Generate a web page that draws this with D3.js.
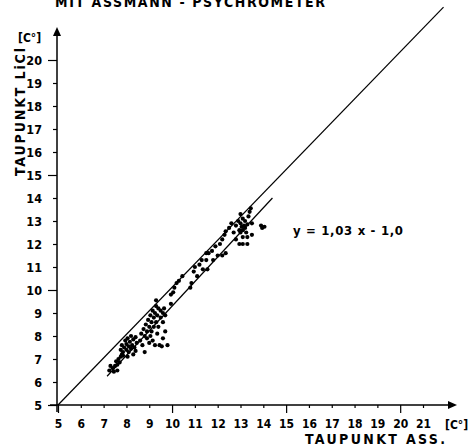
<!DOCTYPE html>
<html>
<head>
<meta charset="utf-8">
<script src="https://cdn.jsdelivr.net/npm/d3@7"></script>
<style>
  body { margin: 0; background: #fff; }
  text { font-family: "DejaVu Sans Condensed", "DejaVu Sans", sans-serif; font-weight: bold; fill: #000; }
</style>
</head>
<body>
<svg id="chart" width="470" height="446"></svg>
<script>
// tick values (deg C) on both axes
const xTicks = d3.range(5, 22);
const yTicks = d3.range(5, 21);
const majorTicks = [5, 10, 15, 20];

// dew point Assmann (x) vs dew point LiCl (y)
const points = [
  [7.25, 6.5], [7.3, 6.7], [7.45, 6.45], [7.5, 6.7], [7.55, 6.9], [7.6, 6.5],
  [7.65, 7.0], [7.7, 6.85], [7.75, 7.1], [7.4, 6.6], [7.8, 7.2], [7.6, 6.75],
  [7.75, 7.4], [7.8, 7.6], [7.85, 7.3], [7.9, 7.5], [7.95, 7.8], [8.0, 7.4],
  [8.0, 7.65], [8.05, 7.9], [8.1, 7.3], [8.1, 7.55], [8.15, 7.75], [8.2, 7.45],
  [8.2, 8.0], [8.25, 7.6], [8.3, 7.85], [8.3, 7.2], [8.35, 7.5], [8.4, 7.95],
  [8.45, 7.7], [7.85, 7.15], [8.05, 7.1], [8.4, 7.35],
  [8.6, 7.8], [8.65, 8.1], [8.7, 7.6], [8.75, 8.3], [8.8, 7.3], [8.8, 8.0],
  [8.85, 8.5], [8.9, 7.9], [8.9, 8.2], [8.95, 8.7], [9.0, 7.7], [9.0, 8.4],
  [9.05, 8.0], [9.05, 8.9], [9.1, 8.6], [9.1, 8.2], [9.15, 9.1], [9.15, 7.8],
  [9.2, 8.4], [9.2, 8.8], [9.25, 9.0], [9.25, 7.6], [9.3, 8.6], [9.3, 9.3],
  [9.35, 8.1], [9.35, 8.9], [9.4, 9.2], [9.4, 8.4], [9.45, 7.6], [9.5, 8.8],
  [9.5, 9.1], [9.55, 7.55], [9.6, 9.0], [9.6, 8.6], [9.7, 8.9], [9.3, 9.55],
  [9.6, 7.9], [9.8, 7.6], [9.7, 8.2], [9.65, 9.2], [9.95, 9.4],
  [9.95, 9.8], [10.05, 9.9], [10.1, 10.1], [10.2, 10.3], [10.3, 10.4],
  [10.45, 10.6], [10.8, 10.1], [10.85, 10.3], [10.95, 10.8], [11.0, 11.0],
  [11.1, 10.6], [11.2, 11.1], [11.35, 10.9], [11.5, 11.3], [11.55, 10.9],
  [11.6, 11.6], [11.75, 11.7], [11.8, 11.3], [11.9, 11.9], [12.0, 11.5],
  [12.1, 12.0], [12.2, 12.2], [12.2, 11.5], [12.3, 12.4], [12.35, 12.55],
  [12.35, 11.6], [11.5, 11.6], [11.3, 11.3],
  [12.5, 12.7], [12.6, 12.9], [12.7, 12.5], [12.8, 12.8], [12.9, 13.0],
  [12.95, 12.6], [13.0, 12.9], [13.0, 12.5], [13.05, 12.75], [13.1, 13.1],
  [13.1, 12.6], [13.15, 12.8], [13.2, 12.7], [13.2, 13.0], [13.25, 12.5],
  [13.3, 12.85], [13.35, 13.2], [13.4, 13.4], [13.45, 13.55], [13.5, 12.9],
  [13.3, 12.3], [13.1, 12.3], [12.95, 12.0], [13.1, 12.0], [13.3, 12.0],
  [13.5, 12.4], [12.8, 12.2], [13.0, 13.3],
  [13.9, 12.8], [14.05, 12.75], [13.95, 12.7]
];

// 1:1 line and regression line y = 1.03x - 1.0 (end points)
const diagonal = [[5, 5], [21.9, 22.3]];
const fitLine = [[7.15, 6.25], [14.4, 14.0]];

const svg = d3.select("#chart");

const x = d3.scaleLinear().domain([5, 21]).range([58, 423]);
const y = d3.scaleLinear().domain([5, 20]).range([405, 60]);

// title (cut at the top edge, as in the scan)
svg.append("text")
  .attr("x", 55).attr("y", 7)
  .attr("font-size", 14)
  .attr("textLength", 270)
  .text("MIT  ASSMANN - PSYCHROMETER");

// x axis
const xAxis = d3.axisBottom(x)
  .tickValues(xTicks)
  .tickSize(3)
  .tickFormat(d3.format("d"));
const gx = svg.append("g").attr("transform", "translate(0,405)").call(xAxis);
gx.select(".domain").remove();
gx.selectAll(".tick line")
  .attr("stroke", "#000")
  .attr("stroke-width", 1.2)
  .attr("y2", d => majorTicks.includes(d) ? 8 : 3);
gx.selectAll(".tick text")
  .attr("y", 14)
  .attr("font-size", 12)
  .attr("font-family", null);

// y axis
const yAxis = d3.axisLeft(y)
  .tickValues(yTicks)
  .tickSize(4)
  .tickFormat(d3.format("d"));
const gy = svg.append("g").attr("transform", "translate(57,0)").call(yAxis);
gy.select(".domain").remove();
gy.selectAll(".tick line")
  .attr("stroke", "#000")
  .attr("stroke-width", 1.2)
  .attr("x2", d => majorTicks.includes(d) ? -9 : -4);
gy.selectAll(".tick text")
  .attr("x", -15)
  .attr("font-size", 12.5)
  .attr("font-family", null);

// axis lines with arrows
svg.append("line")
  .attr("x1", 50).attr("y1", 405).attr("x2", 450).attr("y2", 405)
  .attr("stroke", "#000").attr("stroke-width", 1.5);
svg.append("path")
  .attr("d", "M448,401L457,405L448,409Z")
  .attr("fill", "#000");
svg.append("line")
  .attr("x1", 57).attr("y1", 412).attr("x2", 57).attr("y2", 34)
  .attr("stroke", "#000").attr("stroke-width", 1.5);
svg.append("path")
  .attr("d", "M53,36L57,27L61,36Z")
  .attr("fill", "#000");

// unit labels
svg.append("text")
  .attr("x", 445).attr("y", 429)
  .attr("font-size", 12)
  .text("[C°]");
svg.append("text")
  .attr("x", 18).attr("y", 42)
  .attr("font-size", 12)
  .text("[C°]");

// axis titles
svg.append("text")
  .attr("x", 305).attr("y", 444)
  .attr("font-size", 14)
  .attr("textLength", 140)
  .text("TAUPUNKT   ASS.");
svg.append("text")
  .attr("transform", "translate(25,176) rotate(-90)")
  .attr("font-size", 14)
  .attr("textLength", 128)
  .text("TAUPUNKT  LiCl");

// reference lines
const line = d3.line().x(d => x(d[0])).y(d => y(d[1]));
svg.append("path")
  .attr("d", line(diagonal))
  .attr("fill", "none").attr("stroke", "#000").attr("stroke-width", 1.2);
svg.append("path")
  .attr("d", line(fitLine))
  .attr("fill", "none").attr("stroke", "#000").attr("stroke-width", 1.2);

// scatter points
svg.append("g")
  .selectAll("circle")
  .data(points)
  .join("circle")
  .attr("cx", d => x(d[0]))
  .attr("cy", d => y(d[1]))
  .attr("r", 2.1)
  .attr("fill", "#000");

// regression equation
svg.append("text")
  .attr("x", 293).attr("y", 235)
  .attr("font-size", 13)
  .attr("textLength", 110)
  .text("y  =  1,03 x  - 1,0");
</script>
</body>
</html>
